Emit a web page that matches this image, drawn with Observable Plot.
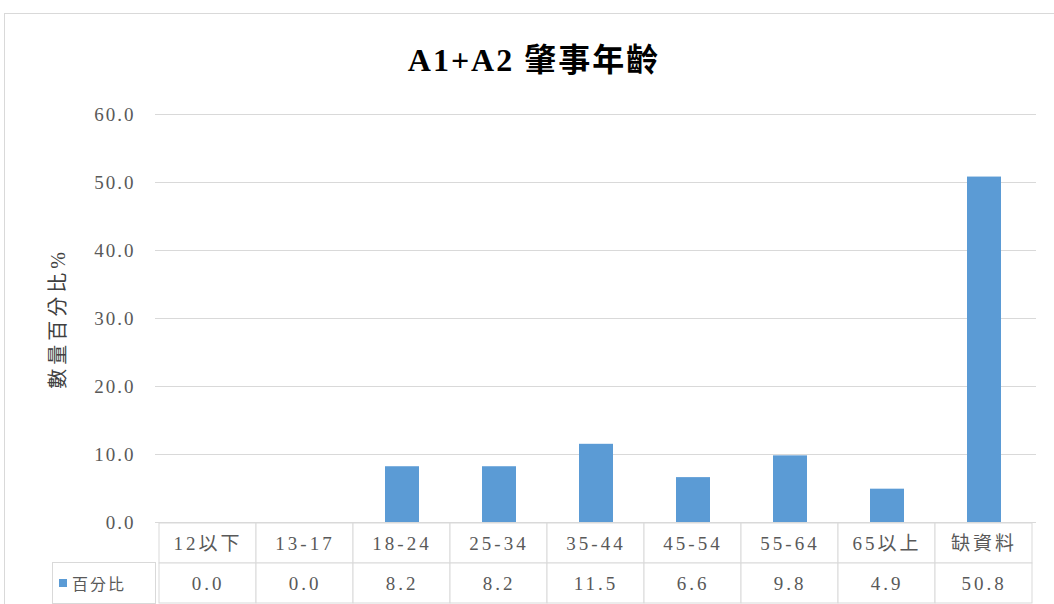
<!DOCTYPE html>
<html>
<head>
<meta charset="utf-8">
<script src="https://cdn.jsdelivr.net/npm/d3@7"></script>
<script src="https://cdn.jsdelivr.net/npm/@observablehq/plot@0.6"></script>
<style>
  html, body { margin: 0; padding: 0; background: #fff; }
  #wrap { position: relative; width: 1054px; height: 604px; overflow: hidden; background: #fff; }
  #bars, #table { position: absolute; left: 0; }
  #bars { top: 0; z-index: 2; }
  #table { top: 522px; z-index: 1; }
  #bars svg { overflow: visible; }
  #frame { position: absolute; left: 4px; top: 13px; width: 1070px; height: 620px;
           border: 1px solid #d9d9d9; box-sizing: border-box; pointer-events: none; }
  #title { position: absolute; left: 0; width: 1068px; top: 44px; text-align: center;
           font: bold 32px/1 "Liberation Serif", "Noto Sans CJK TC", serif; letter-spacing: 2px; color: #000; }
  #legend { position: absolute; left: 52px; top: 562px; width: 104px; height: 42px; box-sizing: border-box;
            border: 1px solid #d9d9d9; display: flex; align-items: center; background: #fff;
            font: 16px "Noto Sans CJK TC", sans-serif; color: #595959; letter-spacing: 2px; }
  #legend .swatch { width: 8px; height: 8px; margin: 0 5px 0 6px; }
  #bars g[aria-label="y-axis tick label"] { letter-spacing: 2px; }
  #bars g[aria-label="y-axis label"] text { letter-spacing: 4px; font-size: 20px; fill: #404040; }
  #table g[aria-label="text"] { letter-spacing: 3px; }
</style>
</head>
<body>
<div id="wrap">
  <div id="table"></div>
  <div id="bars"></div>
  <div id="legend"></div>
  <div id="title"></div>
  <div id="frame"></div>
</div>
<script>
// Age groups of drivers involved in A1+A2 crashes, share of total (%)
const chartTitle = "A1+A2 肇事年齡";
const yLabel = "數量百分比%";
const seriesName = "百分比";
const categories = ["12以下", "13-17", "18-24", "25-34", "35-44", "45-54", "55-64", "65以上", "缺資料"];
const percents = [0.0, 0.0, 8.2, 8.2, 11.5, 6.6, 9.8, 4.9, 50.8];
const yTicks = [0, 10, 20, 30, 40, 50, 60];

const barColor = "#5b9bd5";
const gridColor = "#d9d9d9";
const textColor = "#595959";
const fontFamily = '"Liberation Serif", "Noto Sans CJK TC", serif';

const rows = categories.map((c, i) => ({category: c, value: percents[i]}));

// Shared horizontal layout so bars sit centred in the table columns below
const W = 1054, ML = 155, MR = 18;

const bars = Plot.plot({
  width: W,
  height: 523,
  marginLeft: ML,
  marginRight: MR,
  marginTop: 114,
  marginBottom: 1,
  style: {fontFamily, fontSize: "19px", color: textColor, background: "transparent", overflow: "visible"},
  x: {domain: categories, paddingInner: 0.65, paddingOuter: 0.325, axis: null},
  y: {domain: [0, 60]},
  marks: [
    Plot.ruleY(yTicks, {stroke: gridColor, strokeWidth: 1}),
    Plot.barY(rows, {x: "category", y: "value", fill: barColor}),
    Plot.axisY({
      ticks: yTicks,
      tickFormat: d => d.toFixed(1),
      tickSize: 0,
      tickPadding: 20,
      fill: textColor,
      label: yLabel,
      labelAnchor: "center",
      labelArrow: "none",
      labelOffset: 105
    })
  ]
});
document.getElementById("bars").append(bars);

// Data table under the bars: category header row and value row
const tableRows = ["category", "value"];
const cells = [];
for (const r of rows) {
  cells.push({category: r.category, row: "category", label: r.category});
  cells.push({category: r.category, row: "value", label: r.value.toFixed(1)});
}

const table = Plot.plot({
  width: W,
  height: 82,
  marginLeft: ML,
  marginRight: MR,
  marginTop: 0,
  marginBottom: 1,
  style: {fontFamily, fontSize: "19px", color: textColor, background: "transparent"},
  x: {domain: categories, padding: 0, axis: null},
  y: {domain: tableRows, padding: 0, axis: null},
  marks: [
    Plot.cell(cells, {x: "category", y: "row", fill: "white", stroke: gridColor, inset: 0}),
    Plot.text(cells, {x: "category", y: "row", text: "label", fill: textColor, fontSize: 19})
  ]
});
document.getElementById("table").append(table);

// Legend key in the table's left cell
const legend = document.getElementById("legend");
const sw = document.createElement("span");
sw.className = "swatch";
sw.style.background = barColor;
const lt = document.createElement("span");
lt.textContent = seriesName;
legend.append(sw, lt);

document.getElementById("title").textContent = chartTitle;
</script>
</body>
</html>
